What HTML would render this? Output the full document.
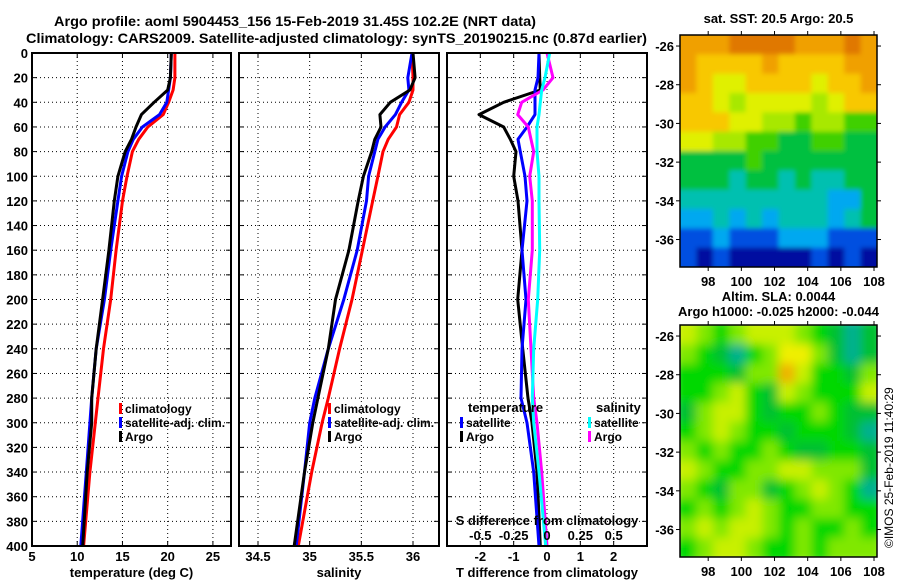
<!DOCTYPE html>
<html><head><meta charset="utf-8"><style>
html,body{margin:0;padding:0;background:#fff;}
svg text{font-family:"Liberation Sans",Arial,sans-serif;font-weight:bold;fill:#000;}
</style></head><body>
<svg id="chart" xmlns="http://www.w3.org/2000/svg" width="900" height="580" viewBox="0 0 900 580">
<text x="54" y="26" font-size="14" textLength="482" lengthAdjust="spacingAndGlyphs">Argo profile: aoml 5904453_156 15-Feb-2019 31.45S 102.2E (NRT data)</text>
<text x="26" y="43" font-size="14" textLength="621" lengthAdjust="spacingAndGlyphs">Climatology: CARS2009. Satellite-adjusted climatology: synTS_20190215.nc (0.87d earlier)</text>
<g id="plots"></g>
<text transform="translate(893,548) rotate(-90)" font-size="12" style="font-weight:normal">©IMOS 25-Feb-2019 11:40:29</text>
</svg>
<script>
// ---- data ----
const depthT = [0,20,30,40,50,60,70,80,100,120,160,200,240,280,300,340,400];
const tempClim = [20.8,20.8,20.6,20.1,19.5,17.8,16.8,16.1,15.5,15.0,14.3,13.7,12.9,12.3,12.0,11.4,10.7];
const tempSat  = [20.4,20.3,20.1,19.9,19.1,17.2,16.2,15.6,14.9,14.5,13.7,13.0,12.1,11.6,11.4,11.0,10.4];
const tempArgo = [20.4,20.3,20.0,18.5,17.1,16.5,16.0,15.3,14.5,14.1,13.5,12.8,12.1,11.6,11.6,11.1,10.6];
const salClim = [35.99,36.0,36.0,35.96,35.87,35.84,35.76,35.71,35.66,35.61,35.51,35.41,35.29,35.18,35.12,35.02,34.89];
const salSat  = [35.99,35.95,35.96,35.89,35.83,35.73,35.66,35.63,35.57,35.55,35.46,35.33,35.18,35.05,35.0,34.95,34.87];
const salArgo = [36.0,36.02,35.97,35.78,35.68,35.69,35.63,35.6,35.52,35.47,35.38,35.25,35.18,35.08,35.03,34.95,34.85];
const dTSat  = [-0.24,-0.27,-0.36,-0.36,-0.36,-0.6,-0.87,-0.8,-0.66,-0.6,-0.75,-0.63,-0.75,-0.78,-0.6,-0.4,-0.24];
const dTArgo = [-0.24,-0.22,-0.2,-1.3,-2.04,-1.3,-1.1,-0.93,-1.0,-0.87,-0.75,-0.88,-0.73,-0.57,-0.45,-0.3,-0.2];
const dSSat  = [0.02,-0.015,-0.04,-0.05,-0.06,-0.075,-0.075,-0.075,-0.06,-0.06,-0.055,-0.07,-0.1,-0.11,-0.1,-0.06,-0.01];
const dSArgo = [0.0,0.045,-0.03,-0.19,-0.22,-0.14,-0.12,-0.1,-0.13,-0.11,-0.11,-0.14,-0.12,-0.1,-0.075,-0.04,0.0];
const depthTicks = [0,20,40,60,80,100,120,140,160,180,200,220,240,260,280,300,320,340,360,380,400];
const tempTicks = [5,10,15,20,25];
const salTicks = [34.5,35,35.5,36];
const salTickLabels = ["34.5","35","35.5","36"];
const dTTicks = [-2,-1,0,1,2];
const dSTicks = [-0.5,-0.25,0,0.25,0.5];
const dSTickLabels = ["-0.5","-0.25","0","0.25","0.5"];
const lonTicks = [98,100,102,104,106,108];
const latTicks = [-26,-28,-30,-32,-34,-36];
const sstGrid = [
[9,9,9,10,10,10,10,9,9,9,10,9],
[9,8,8,8,8,9,8,8,8,8,9,9],
[9,8,7,7,8,8,8,8,7,8,8,9],
[8,8,7,6,7,7,7,7,6,7,8,8],
[8,8,8,7,7,6,6,5,6,6,5,5],
[7,7,6,6,5,5,4,4,5,5,4,4],
[4,4,4,4,5,4,4,4,4,4,4,4],
[4,4,4,3,4,4,3,4,3,3,4,4],
[3,3,3,3,3,3,3,3,3,2,2,4],
[2,2,3,2,3,2,3,3,3,2,3,4],
[1,1,2,1,1,1,2,2,2,1,1,1],
[1,0,1,0,0,0,0,0,1,0,1,0]];
const slaGrid = [
[4,3,2,3,4,4,4,3,2,1,0,1],
[3,2,1,0,2,3,5,5,3,1,0,1],
[2,2,2,1,3,3,6,4,2,2,1,3],
[2,2,3,4,2,1,4,3,2,2,2,4],
[1,3,4,4,2,1,2,2,3,2,1,1],
[2,3,4,3,2,2,1,2,2,2,1,0],
[3,2,3,2,2,3,2,1,1,2,2,1],
[4,3,2,2,3,3,4,4,3,3,3,1],
[3,2,1,3,3,1,2,3,4,3,2,0],
[2,3,2,3,4,3,2,2,3,3,2,2],
[3,4,3,4,4,3,2,3,2,2,3,2],
[2,3,4,4,3,2,2,3,2,3,3,3]];
const sstColors = ["#0010a0","#0050e0","#00a8f0","#00c0b0","#00c040","#40d000","#a8e800","#e0f000","#f8c800","#f0a000","#e07800"];
const slaColors = ["#00b090","#00c030","#00d800","#80e800","#c8f000","#f0f000","#f0b000"];

// ---- helpers ----
const NS="http://www.w3.org/2000/svg";
const root=document.getElementById('plots');
function mk(tag,attrs,parent){const e=document.createElementNS(NS,tag);for(const k in attrs)e.setAttribute(k,attrs[k]);(parent||root).appendChild(e);return e;}
const Y0=53,Y1=546;
function yD(d){return Y0+d*(Y1-Y0)/400;}
function lin(d0,d1,r0,r1){return v=>r0+(v-d0)*(r1-r0)/(d1-d0);}

function panel(name,x0,x1,xs,ticks,labels,xlabel,showY){
  const g=mk('g',{});
  
  
  depthTicks.forEach(d=>{
    const y=yD(d);
    if(d>0&&d<400){const l=mk('line',{x1:x0,x2:x1,y1:y,y2:y,stroke:'#000','stroke-width':1,'stroke-dasharray':'1 3'},g);
      }
    mk('line',{x1:x0,x2:x0+5,y1:y,y2:y,stroke:'#000','stroke-width':1},g);
    mk('line',{x1:x1-5,x2:x1,y1:y,y2:y,stroke:'#000','stroke-width':1},g);
    if(showY){const t=mk('text',{x:28,y:y+5,'text-anchor':'end','font-size':13},g);t.textContent=d;
      }
  });
  ticks.forEach((v,i)=>{
    const x=xs(v);
    if(x>x0+2&&x<x1-2){const l=mk('line',{x1:x,x2:x,y1:Y0,y2:Y1,stroke:'#000','stroke-width':1,'stroke-dasharray':'1 3'},g);
      }
    mk('line',{x1:x,x2:x,y1:Y1-5,y2:Y1,stroke:'#000'},g);
    mk('line',{x1:x,x2:x,y1:Y0,y2:Y0+5,stroke:'#000'},g);
    const t=mk('text',{x:x,y:561,'text-anchor':'middle','font-size':13},g);t.textContent=labels[i];
    
  });
  const xl=mk('text',{x:(x0+x1)/2,y:577,'text-anchor':'middle','font-size':13},g);xl.textContent=xlabel;
  
  return g;
}
function frame(g,x0,x1){const r=mk('rect',{x:x0,y:Y0,width:x1-x0,height:Y1-Y0,fill:'none',stroke:'#000','stroke-width':2},g);
  }
function series(g,name,vals,xs,color){
  const pts=vals.map((v,i)=>xs(v).toFixed(1)+','+yD(depthT[i]).toFixed(1)).join(' ');
  const p=mk('polyline',{points:pts,fill:'none',stroke:color,'stroke-width':3,'stroke-linejoin':'round'},g);
  
}
function legend(g,x,y,color,label){
  const r=mk('rect',{x:x,y:y-10,width:3,height:11,fill:color},g);
  
  const t=mk('text',{x:x+6,y:y,'font-size':12},g);t.textContent=label;
  
}

// Panel 1 temperature
const xT=lin(5,27,32,231);
const g1=panel('temperature-panel',32,231,xT,tempTicks,tempTicks.map(String),'temperature (deg C)',true);
series(g1,'temp-climatology-line',tempClim,xT,'#ff0000');
series(g1,'temp-satellite-line',tempSat,xT,'#0000ff');
series(g1,'temp-argo-line',tempArgo,xT,'#000000');
legend(g1,119,413,'#ff0000','climatology');
legend(g1,119,427,'#0000ff','satellite-adj. clim.');
legend(g1,119,441,'#000000','Argo');
frame(g1,32,231);

// Panel 2 salinity
const xS=lin(34.5,36,258,413);
const g2=panel('salinity-panel',239,439,xS,salTicks,salTickLabels,'salinity',false);
series(g2,'sal-climatology-line',salClim,xS,'#ff0000');
series(g2,'sal-satellite-line',salSat,xS,'#0000ff');
series(g2,'sal-argo-line',salArgo,xS,'#000000');
legend(g2,328,413,'#ff0000','climatology');
legend(g2,328,427,'#0000ff','satellite-adj. clim.');
legend(g2,328,441,'#000000','Argo');
frame(g2,239,439);

// Panel 3 differences
const xDT=lin(-3,3,447,647);
const xDS=lin(-0.75,0.75,447,647);
const g3=panel('difference-panel',447,647,xDT,dTTicks,dTTicks.map(String),'T difference from climatology',false);
series(g3,'dT-argo-line',dTArgo,xDT,'#000000');
series(g3,'dT-satellite-line',dTSat,xDT,'#0000ff');
series(g3,'dS-argo-line',dSArgo,xDS,'#ff00ff');
series(g3,'dS-satellite-line',dSSat,xDS,'#00ffff');
{const t=mk('text',{x:468,y:412,'font-size':13},g3);t.textContent='temperature';}
{const t=mk('text',{x:596,y:412,'font-size':13},g3);t.textContent='salinity';}
legend(g3,460,427,'#0000ff','satellite');
legend(g3,460,441,'#000000','Argo');
legend(g3,588,427,'#00ffff','satellite');
legend(g3,588,441,'#ff00ff','Argo');
{const t=mk('text',{x:547,y:525,'text-anchor':'middle','font-size':13},g3);t.textContent='S difference from climatology';}
dSTicks.forEach((v,i)=>{const t=mk('text',{x:xDS(v),y:540,'text-anchor':'middle','font-size':13},g3);t.textContent=dSTickLabels[i];
  });
frame(g3,447,647);

// Maps
const defs=mk('defs',{});
const f1=mk('filter',{id:'bl',x:'-5%',y:'-5%',width:'110%',height:'110%'},defs);mk('feGaussianBlur',{stdDeviation:5},f1);
const f2=mk('filter',{id:'bl2',x:'-5%',y:'-5%',width:'110%',height:'110%'},defs);mk('feGaussianBlur',{stdDeviation:2.5},f2);
function map(name,grid,colors,x0,x1,y0,y1,filt,title1,title2){
  const g=mk('g',{});
  
  const lon=lin(96.3,108.18,x0,x1), lat=lin(-25.43,-37.42,y0,y1);
  const rows=grid.length, cols=grid[0].length;
  const cw=(x1-x0)/cols, ch=(y1-y0)/rows;
  const id='clip'+name;
  const cp=mk('clipPath',{id:id},g);mk('rect',{x:x0,y:y0,width:x1-x0,height:y1-y0},cp);
  const hg=mk('g',{'clip-path':'url(#'+id+')'},g);
  const inner=mk('g',{filter:'url(#'+filt+')'},hg);
  grid.forEach((row,r)=>row.forEach((v,c)=>{
    const ex=(c===0?6:0), ey=(r===0?6:0), ex2=(c===cols-1?6:0), ey2=(r===rows-1?6:0);
    const e=mk('rect',{x:(x0+c*cw-ex).toFixed(1),y:(y0+r*ch-ey).toFixed(1),width:(cw+0.6+ex+ex2).toFixed(1),height:(ch+0.6+ey+ey2).toFixed(1),fill:colors[v]},inner);
    
  }));
  const fr=mk('rect',{x:x0,y:y0,width:x1-x0,height:y1-y0,fill:'none',stroke:'#000','stroke-width':1.5},g);
  
  lonTicks.forEach(v=>{const x=lon(v);mk('line',{x1:x,x2:x,y1:y1,y2:y1+4,stroke:'#000'},g);mk('line',{x1:x,x2:x,y1:y0,y2:y0-4,stroke:'#000'},g);
    const t=mk('text',{x:x,y:y1+19,'text-anchor':'middle','font-size':13},g);t.textContent=v;
    });
  latTicks.forEach(v=>{const y=lat(v);mk('line',{x1:x0-4,x2:x0,y1:y,y2:y,stroke:'#000'},g);mk('line',{x1:x1,x2:x1+4,y1:y,y2:y,stroke:'#000'},g);
    const t=mk('text',{x:x0-6,y:y+5,'text-anchor':'end','font-size':13},g);t.textContent=v;
    });
  if(title1){const t=mk('text',{x:(x0+x1)/2,y:y0-(title2?24:12),'text-anchor':'middle','font-size':13},g);t.textContent=title1;
    }
  if(title2){const t=mk('text',{x:(x0+x1)/2,y:y0-9,'text-anchor':'middle','font-size':13},g);t.textContent=title2;
    }
}
map('sst-map',sstGrid,sstColors,680,877,35,267,'bl2','sat. SST: 20.5 Argo: 20.5',null);
map('sla-map',slaGrid,slaColors,680,877,325,557,'bl','Altim. SLA: 0.0044','Argo h1000: -0.025 h2000: -0.044');
</script>
</body></html>
